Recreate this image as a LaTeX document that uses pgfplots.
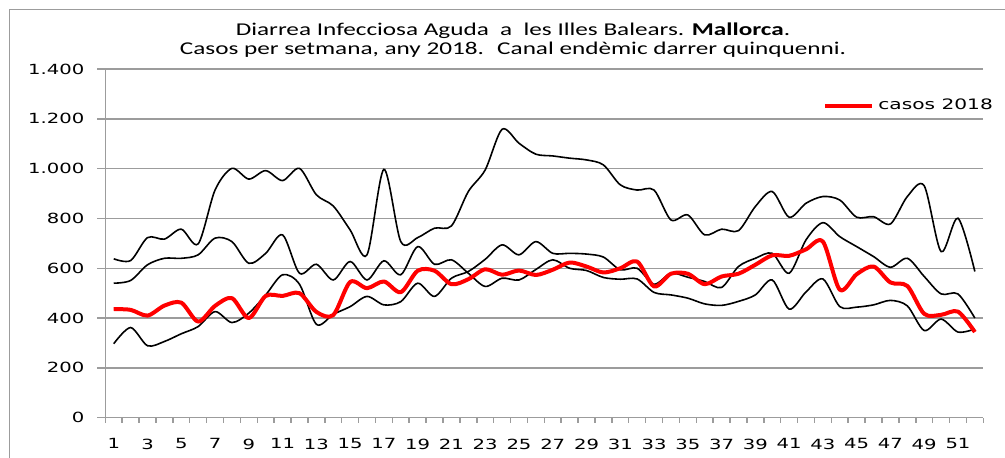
\documentclass[border=0pt]{standalone}
\usepackage{fontspec}
\setmainfont[FakeStretch=1.4]{DejaVu Sans}
\newfontfamily\titlefont[FakeStretch=1.4]{Carlito}
\usepackage{pgfplots}
\pgfplotsset{compat=1.18}
\definecolor{gridgray}{HTML}{9C9C9C}

% week, upper, band A, band B, cases 2018
\pgfplotstableread{
w up a b c
1 638 540 297 436
2 631 551 362 433
3 723 614 289 410
4 717 640 306 450
5 757 640 337 462
6 698 654 366 386
7 914 721 426 449
8 1001 707 382 480
9 958 620 420 400
10 992 660 493 489
11 952 734 574 489
12 1001 580 536 500
13 895 616 375 425
14 850 553 415 412
15 754 627 446 545
16 654 553 487 520
17 997 630 453 547
18 707 574 466 504
19 723 687 540 590
20 761 616 487 590
21 770 634 560 536
22 908 580 587 556
23 995 527 636 596
24 1158 560 694 574
25 1102 553 654 591
26 1058 595 707 573
27 1051 634 660 594
28 1042 600 660 623
29 1035 591 657 607
30 1015 563 645 583
31 935 556 594 600
32 914 557 600 627
33 914 503 536 527
34 794 493 580 578
35 814 480 564 578
36 734 457 547 536
37 757 451 523 567
38 751 467 607 578
39 848 493 640 614
40 908 553 660 652
41 805 436 580 650
42 861 505 714 676
43 888 557 783 707
44 874 446 727 514
45 805 444 687 576
46 807 453 647 607
47 778 471 604 543
48 888 449 640 529
49 931 350 567 417
50 667 396 497 413
51 801 344 497 426
52 587 356 400 344
}\weeks

\begin{document}
\begin{tikzpicture}
\useasboundingbox (-52.65pt,-19.65pt) rectangle (449.85pt,208.85pt);
\draw[gridgray, line width=0.7pt] (-47.9pt,-40pt) rectangle (470pt,204.2pt);
\begin{axis}[
  at={(0,0)}, anchor=south west,
  scale only axis, width=439pt, height=174.35pt,
  xmin=0.5, xmax=52.5, ymin=0, ymax=1400,
  axis x line*=bottom, axis y line*=left,
  axis line style={gridgray, line width=0.75pt},
  every tick/.style={gridgray, line width=0.75pt},
  tick align=outside,
  xtick={1,3,...,51}, major x tick style={draw=none},
  minor xtick={0.5,1.5,...,52.5}, minor tick length=2.5pt,
  ytick={0,200,...,1400}, major tick length=4pt,
  yticklabels={0,200,400,600,800,1.000,1.200,1.400},
  ymajorgrids, grid style={gridgray, line width=0.75pt},
  /pgf/number format/assume math mode=true,
  tick label style={font=\fontsize{7}{8}\selectfont, black},
  xticklabel style={yshift=-3pt},
  yticklabel style={xshift=-3pt},
  legend style={at={(0.8174,0.894)}, anchor=west, draw=none, fill=none,
    font=\fontsize{7.2}{8}\selectfont, inner sep=0pt},
  legend cell align=left,
  legend image code/.code={\draw[#1] (0pt,0pt) -- (23.5pt,0pt);},
]
\addplot[black, line width=0.8pt, smooth, forget plot] table[x=w, y=up] {\weeks};
\addplot[black, line width=0.8pt, smooth, forget plot] table[x=w, y=a] {\weeks};
\addplot[black, line width=0.8pt, smooth, forget plot] table[x=w, y=b] {\weeks};
\addplot[red, line width=2pt, smooth, line join=round] table[x=w, y=c] {\weeks};
\legend{casos 2018}
\end{axis}
\node[font=\titlefont\fontsize{9}{10}\selectfont] at (203.85pt,193.35pt)
  {Diarrea Infecciosa Aguda \ a \ les Illes Balears. \textbf{Mallorca}.};
\node[font=\titlefont\fontsize{9}{10}\selectfont] at (203.85pt,183.85pt)
  {Casos per setmana, any 2018. \ Canal endèmic darrer quinquenni.};
\end{tikzpicture}
\end{document}
